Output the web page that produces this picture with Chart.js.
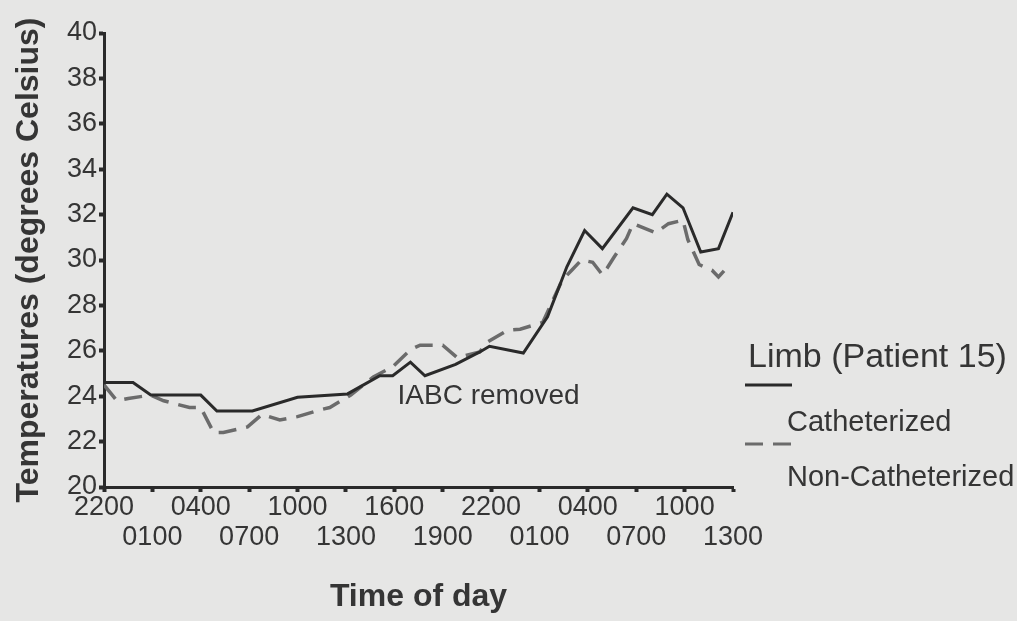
<!DOCTYPE html>
<html>
<head>
<meta charset="utf-8">
<script src="https://cdn.jsdelivr.net/npm/chart.js@4.4.0/dist/chart.umd.min.js"></script>
<style>
  html, body { margin: 0; padding: 0; background: #e6e6e5; }
  #wrap { width: 1017px; height: 621px; position: relative; }
</style>
</head>
<body>
<div id="wrap"><canvas id="limbTemps"></canvas></div>
<script>
// hours after 2200 on day one, temperature in degrees Celsius
var cathHours = [0, 1.8, 2.9, 6.0, 7.0, 9.2, 12.0, 15.1, 17.1, 17.9, 19.0, 19.9, 21.8, 23.3, 23.9, 26.0, 27.5, 28.7, 29.8, 30.9, 32.8, 34.0, 34.9, 35.9, 37.0, 38.1, 39.0];
var cathTemps = [24.6, 24.6, 24.05, 24.05, 23.35, 23.35, 23.95, 24.1, 24.9, 24.9, 25.5, 24.9, 25.4, 25.95, 26.2, 25.9, 27.5, 29.7, 31.3, 30.5, 32.3, 32.0, 32.9, 32.3, 30.35, 30.5, 32.1];

var nonCathHours = [0, 0.8, 1.5, 2.9, 3.7, 5.3, 6.0, 6.8, 7.4, 8.9, 9.8, 10.9, 12.0, 13.4, 14.0, 15.3, 16.7, 17.9, 19.0, 19.6, 21.0, 21.9, 23.3, 23.7, 25.0, 25.8, 27.2, 28.4, 29.0, 29.6, 30.3, 30.9, 31.2, 31.6, 32.4, 32.8, 34.2, 35.0, 35.9, 36.2, 36.9, 37.7, 38.1, 38.8];
var nonCathTemps = [24.5, 23.8, 23.9, 24.05, 23.8, 23.5, 23.5, 22.4, 22.4, 22.65, 23.2, 22.95, 23.1, 23.4, 23.5, 24.05, 24.85, 25.3, 26.05, 26.25, 26.25, 25.7, 25.95, 26.35, 26.9, 26.95, 27.25, 29.1, 29.55, 30.0, 29.9, 29.35, 29.65, 30.1, 30.95, 31.6, 31.2, 31.6, 31.75, 30.9, 29.8, 29.55, 29.25, 29.8];

var tickLabels = ['2200', '0100', '0400', '0700', '1000', '1300', '1600', '1900', '2200', '0100', '0400', '0700', '1000', '1300'];

var seriesNames = ['Catheterized', 'Non-Catheterized'];
var legendTitle = 'Limb (Patient 15)';
var noteText = 'IABC removed';
var noteHour = 18.2;
var noteTemp = 24.0;

function toPoints(xs, ys) {
    return xs.map(function (x, i) { return { x: x, y: ys[i] }; });
}

var inkDark = '#2a2a2a';
var inkGrey = '#6b6b6b';
var textInk = '#353535';

Chart.defaults.font.family = '"Liberation Sans", Arial, Helvetica, sans-serif';
Chart.defaults.color = textInk;

// draws the "IABC removed" note and the hand-laid legend on the right
var extrasPlugin = {
    id: 'extras',
    afterDraw: function (chart) {
        var c = chart.ctx;
        var xs = chart.scales.x, ys = chart.scales.y;
        var sets = chart.data.datasets;
        c.save();
        c.fillStyle = textInk;
        c.textBaseline = 'middle';
        c.textAlign = 'left';

        c.font = '28px "Liberation Sans", Arial, sans-serif';
        c.fillText(noteText, xs.getPixelForValue(noteHour), ys.getPixelForValue(noteTemp));

        var lx = chart.chartArea.right + 12;
        c.font = '34px "Liberation Sans", Arial, sans-serif';
        c.fillText(legendTitle, lx + 3, 358);

        c.font = '29px "Liberation Sans", Arial, sans-serif';
        c.fillText(seriesNames[0], lx + 42, 423);
        c.fillText(seriesNames[1], lx + 42, 478);

        c.lineWidth = 3;
        c.strokeStyle = sets[0].borderColor;
        c.setLineDash([]);
        c.beginPath();
        c.moveTo(lx, 385);
        c.lineTo(lx + 47, 385);
        c.stroke();

        c.strokeStyle = sets[1].borderColor;
        c.setLineDash(sets[1].borderDash);
        c.beginPath();
        c.moveTo(lx, 444);
        c.lineTo(lx + 46, 444);
        c.stroke();
        c.restore();
    }
};

const ctx = document.getElementById('limbTemps');
new Chart(ctx, {
    type: 'line',
    data: {
        datasets: [{
            label: seriesNames[0],
            data: toPoints(cathHours, cathTemps),
            borderColor: inkDark,
            borderWidth: 3,
            tension: 0
        }, {
            label: seriesNames[1],
            data: toPoints(nonCathHours, nonCathTemps),
            borderColor: inkGrey,
            borderWidth: 3.5,
            borderDash: [18, 10],
            tension: 0
        }]
    },
    options: {
        responsive: true,
        maintainAspectRatio: false,
        animation: false,
        elements: {
            point: {
                radius: 0
            }
        },
        layout: {
            padding: { top: 33, right: 284, bottom: 0, left: 0 }
        },
        plugins: {
            legend: {
                display: false
            },
            tooltip: {
                enabled: false
            }
        },
        scales: {
            x: {
                type: 'linear',
                min: 0,
                max: 39,
                afterFit: function (scale) { scale.height = 134; },
                border: { display: true, color: inkDark, width: 3 },
                grid: { drawOnChartArea: false, tickLength: 5, tickWidth: 4, color: inkDark },
                ticks: {
                    stepSize: 3,
                    padding: 1,
                    maxRotation: 0,
                    autoSkip: false,
                    font: { size: 27, lineHeight: '30px' },
                    callback: function (value, index) {
                        var lbl = tickLabels[index];
                        return index % 2 === 0 ? [lbl, ''] : ['', lbl];
                    }
                },
                title: {
                    display: true,
                    text: 'Time of day',
                    font: { size: 32, weight: 'bold' },
                    padding: { top: 0, bottom: 5 }
                }
            },
            y: {
                min: 20,
                max: 40,
                afterFit: function (scale) { scale.width = 104; },
                border: { display: true, color: inkDark, width: 3 },
                grid: { drawOnChartArea: false, tickLength: 5, tickWidth: 4, color: inkDark },
                ticks: {
                    stepSize: 2,
                    padding: 2,
                    font: { size: 27 }
                },
                title: {
                    display: true,
                    text: 'Temperatures (degrees Celsius)',
                    font: { size: 32, weight: 'bold' },
                    padding: { top: 10, bottom: 0 }
                }
            }
        }
    },
    plugins: [extrasPlugin]
});
</script>
</body>
</html>
